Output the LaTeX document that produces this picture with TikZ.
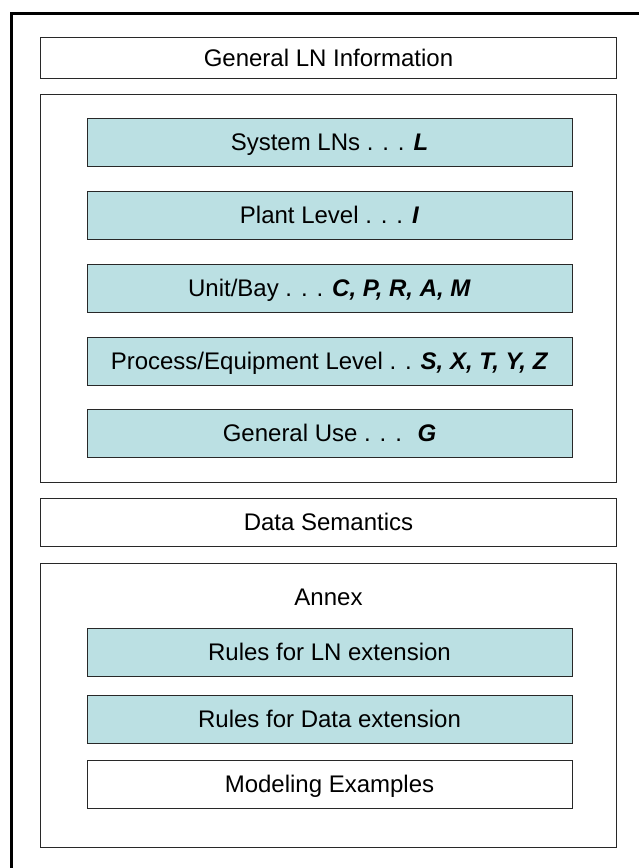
\documentclass[tikz,border=0pt]{standalone}
\usepackage{fontspec}
\setmainfont{Liberation Sans}
\definecolor{lnteal}{RGB}{187,224,227}
\definecolor{lnline}{RGB}{40,40,40}
\newcommand{\bi}[1]{\textbf{\textit{#1}}}
\begin{document}
\begin{tikzpicture}[x=1pt,y=-1pt,
  lbl/.style={inner sep=0pt, font=\fontsize{24}{28}\selectfont, text height=17pt, text depth=0pt},
  plainbox/.style={lbl, draw=lnline, line width=1pt, minimum width=576pt, minimum height=48pt},
  tealbox/.style={lbl, draw=lnline, line width=1pt, fill=lnteal, minimum width=485pt, minimum height=48pt},
  whitebox/.style={lbl, draw=lnline, line width=1pt, fill=white, minimum width=485pt, minimum height=48pt},
  frame/.style={line width=3pt, line join=miter, draw=black}]
\useasboundingbox (0,0) rectangle (639,868);
\coordinate (fbl) at (11.5,868);
\coordinate (ftl) at (11.5,13.5);
\coordinate (ftr) at (639,13.5);
\draw[frame] (fbl) -- (ftl) -- (ftr);
% top
\node[plainbox, minimum height=41pt] (gen) at (328.5,57.5) {General LN Information};
\node[plainbox, minimum height=388pt] (lns) at (328.5,288) {};
\node[tealbox] (sys) at (329.5,142) {System LNs . . . \bi{L}};
\node[tealbox] (plant) at (329.5,215) {Plant Level . . . \bi{I}};
\node[tealbox] (unit) at (329.5,288) {Unit/Bay . . . \bi{C, P, R, A, M}};
\node[tealbox] (proc) at (329.5,361) {Process/Equipment Level . . \bi{S, X, T, Y, Z}};
\node[tealbox] (genuse) at (329.5,433) {General Use . . . \ \bi{G}};
% middle
\node[plainbox] (data) at (328.5,522) {Data Semantics};
% annex
\node[plainbox, minimum height=284pt] (annex) at (328.5,705) {};
\node[lbl] (annexlbl) at (328.5,597) {Annex};
\node[tealbox] (rulesln) at (329.5,652) {Rules for LN extension};
\node[tealbox] (rulesdata) at (329.5,719) {Rules for Data extension};
\node[whitebox] (model) at (329.5,784) {Modeling Examples};
\end{tikzpicture}
\end{document}
